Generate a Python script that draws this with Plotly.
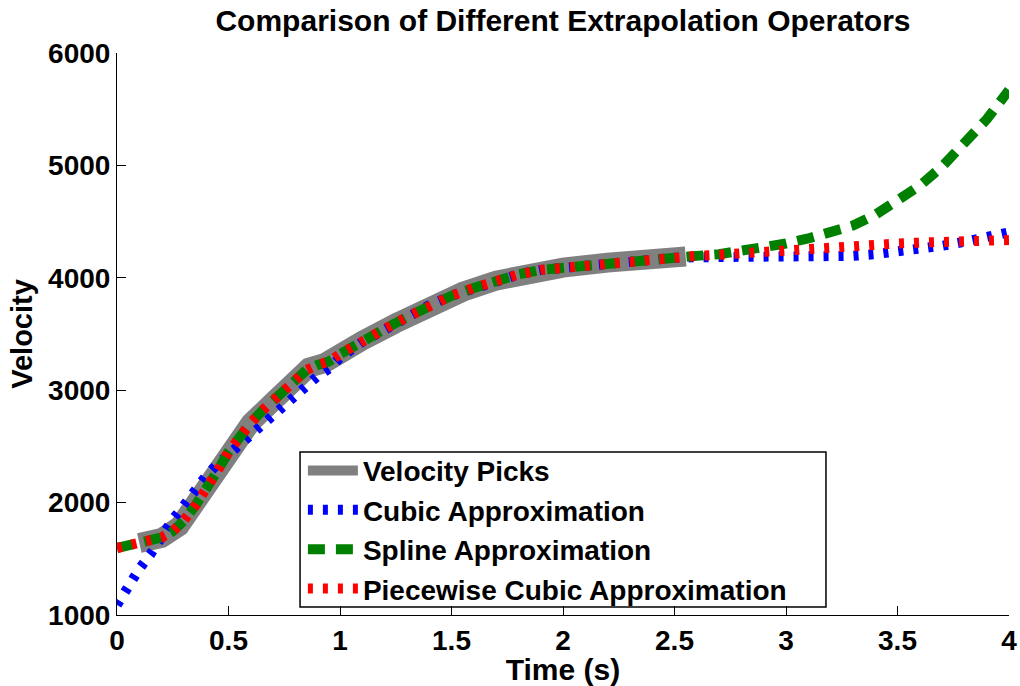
import plotly.graph_objects as go

# ---------------- data ----------------
t_picks = [0.10, 0.20, 0.28, 0.40, 0.50, 0.60, 0.70, 0.80, 0.86, 0.93, 1.03,
           1.10, 1.25, 1.40, 1.55, 1.70, 1.85, 2.00, 2.20, 2.40, 2.55]
v_picks = [1640, 1685, 1790, 2110, 2450, 2710, 2900, 3100, 3200, 3240, 3370,
           3440, 3595, 3755, 3875, 3975, 4050, 4090, 4135, 4165, 4190]

t_fit = [0.00, 0.05, 0.10, 0.15, 0.20, 0.25, 0.30, 0.35, 0.40, 0.45, 0.50,
         0.55, 0.60, 0.65, 0.70, 0.75, 0.80, 0.85, 0.90, 0.95, 1.00, 1.10,
         1.20, 1.30, 1.40, 1.50, 1.60, 1.70, 1.80, 1.90, 2.00, 2.10, 2.20,
         2.30, 2.40, 2.50, 2.60, 2.70, 2.80, 2.90, 3.00, 3.10, 3.20, 3.30,
         3.40, 3.50, 3.60, 3.70, 3.80, 3.90, 4.00]

v_cubic = [1090, 1270, 1410, 1540, 1705, 1850, 1975, 2110, 2240, 2340, 2430,
           2520, 2600, 2690, 2780, 2870, 2960, 3050, 3125, 3190, 3290, 3430,
           3545, 3650, 3755, 3840, 3910, 3975, 4030, 4070, 4090, 4115, 4135,
           4150, 4165, 4178, 4183, 4185, 4184, 4180, 4178, 4180, 4185, 4195,
           4210, 4230, 4255, 4285, 4320, 4360, 4405]

v_spline = [1596, 1615, 1640, 1660, 1690, 1745, 1840, 1970, 2110, 2280, 2450,
            2590, 2710, 2815, 2905, 3005, 3100, 3180, 3225, 3255, 3320, 3440,
            3545, 3650, 3755, 3840, 3910, 3975, 4030, 4070, 4090, 4115, 4135,
            4150, 4165, 4180, 4195, 4210, 4235, 4265, 4305, 4350, 4400, 4465,
            4560, 4680, 4820, 4990, 5190, 5410, 5670]

v_pchip = [1596, 1615, 1640, 1660, 1690, 1745, 1840, 1970, 2110, 2280, 2450,
           2590, 2710, 2815, 2905, 3005, 3100, 3180, 3225, 3255, 3320, 3440,
           3545, 3650, 3755, 3840, 3910, 3975, 4030, 4070, 4090, 4115, 4135,
           4150, 4165, 4180, 4195, 4205, 4220, 4235, 4245, 4258, 4270, 4283,
           4295, 4305, 4313, 4320, 4326, 4331, 4336]

x_ticks = [0, 0.5, 1, 1.5, 2, 2.5, 3, 3.5, 4]
x_tick_labels = ["0", "0.5", "1", "1.5", "2", "2.5", "3", "3.5", "4"]
y_ticks = [1000, 2000, 3000, 4000, 5000, 6000]
y_tick_labels = ["1000", "2000", "3000", "4000", "5000", "6000"]

names = ["Velocity Picks", "Cubic Approximation", "Spline Approximation",
         "Piecewise Cubic Approximation"]

FONT = "Liberation Sans, Arial, Helvetica, sans-serif"

fig = go.Figure()
fig.add_trace(go.Scatter(x=t_picks, y=v_picks, mode="lines", name=names[0],
                         line=dict(color="#808080", width=20)))
fig.add_trace(go.Scatter(x=t_fit, y=v_cubic, mode="lines", name=names[1],
                         line=dict(color="#0000ff", width=10, dash="5px,10px")))
fig.add_trace(go.Scatter(x=t_fit, y=v_spline, mode="lines", name=names[2],
                         line=dict(color="#008000", width=10, dash="17px,11px")))
fig.add_trace(go.Scatter(x=t_fit, y=v_pchip, mode="lines", name=names[3],
                         line=dict(color="#ff0000", width=10, dash="5px,10px")))

# legend frame (box drawn around the legend entries)
fig.add_shape(type="rect", xref="paper", yref="paper",
              x0=0.2052, x1=0.7948, y0=0.0142, y1=0.29,
              line=dict(color="black", width=1.5), fillcolor="white",
              layer="below")

fig.update_layout(
    width=1020, height=686,
    margin=dict(l=117, r=11, t=53, b=71, pad=0),
    paper_bgcolor="white", plot_bgcolor="white",
    font=dict(family=FONT, size=28, color="black", weight="bold"),
    title=dict(text="Comparison of Different Extrapolation Operators",
               x=0.5, xref="paper", xanchor="center",
               y=1 - 20 / 686, yref="container", yanchor="middle",
               font=dict(family=FONT, size=30, color="black", weight="bold")),
    showlegend=True,
    legend=dict(x=0.2084, y=0.0023, xanchor="left", yanchor="bottom",
                bgcolor="rgba(0,0,0,0)", borderwidth=0,
                font=dict(family=FONT, size=28, color="black", weight="bold"),
                itemwidth=50, tracegroupgap=0, itemsizing="trace"),
)
fig.update_xaxes(range=[0, 4], tickmode="array", tickvals=x_ticks,
                 ticktext=x_tick_labels, ticks="inside", ticklen=9,
                 tickwidth=1, tickcolor="black", showline=True,
                 linecolor="black", linewidth=1, showgrid=False,
                 zeroline=False, mirror=False, automargin=False,
                 tickfont=dict(family=FONT, size=28, color="black", weight="bold"),
                 title=dict(text="Time (s)", standoff=6,
                            font=dict(family=FONT, size=30, color="black",
                                      weight="bold")))
fig.update_yaxes(range=[1000, 6000], tickmode="array", tickvals=y_ticks,
                 ticktext=y_tick_labels, ticks="inside", ticklen=9,
                 tickwidth=1, tickcolor="black", showline=True,
                 linecolor="black", linewidth=1, showgrid=False,
                 zeroline=False, mirror=False, automargin=False,
                 tickfont=dict(family=FONT, size=28, color="black", weight="bold"),
                 title=dict(text="Velocity", standoff=6,
                            font=dict(family=FONT, size=29, color="black",
                                      weight="bold")))

fig.write_html("out.html")
